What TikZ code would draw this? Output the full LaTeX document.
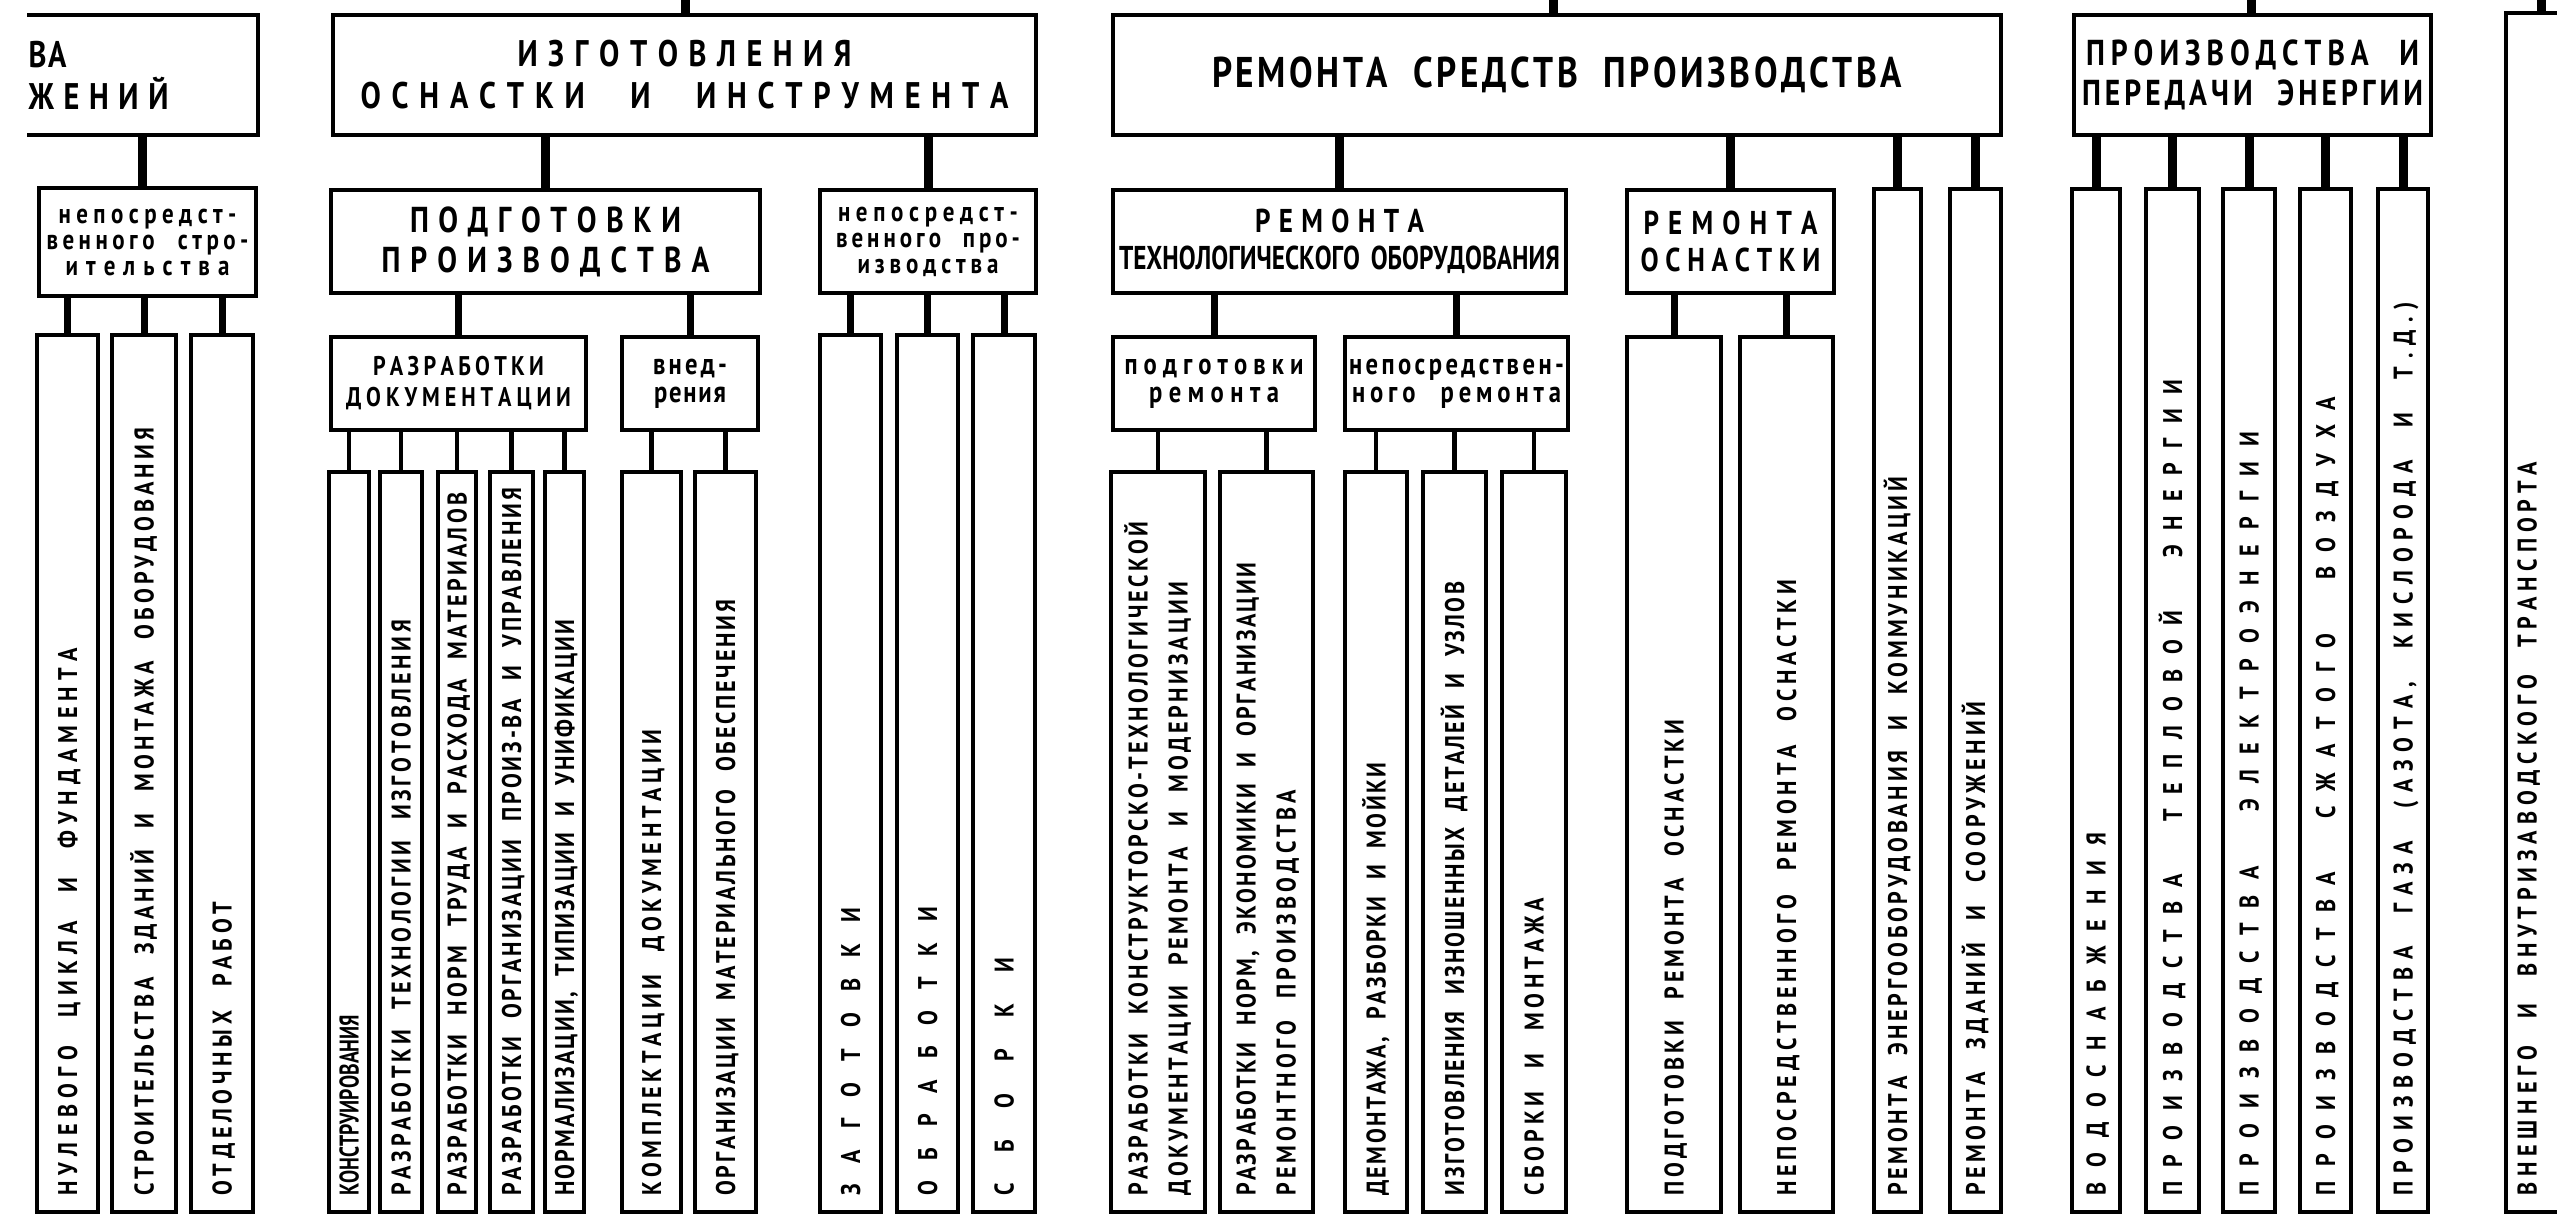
\documentclass[tikz,border=0pt]{standalone}
\usepackage{fontspec}
\setmainfont{PT Sans}[FakeStretch=0.82]
\usepackage{graphicx}
\newlength\fitlen
\def\spr#1#2\relax{#1\sprb#2\relax}
\def\sprb#1{\ifx#1\relax\else\ifx#1|\hskip0.35em plus 2fil\relax\else\hfil#1\fi\expandafter\sprb\fi}
\newcommand\fitto[2]{%
  \settowidth\fitlen{\spr#2\relax}%
  \ifdim\fitlen<#1\relax
    \makebox[#1][s]{\spr#2\relax}%
  \else
    \pgfmathsetmacro\fitsc{#1/\fitlen}%
    \scalebox{\fitsc}[1]{\spr#2\relax}%
  \fi}
\newcommand\fA{\fontsize{37}{42}\selectfont\bfseries\lineskiplimit=-100pt\relax}
\newcommand\fR{\fontsize{43}{43}\selectfont\bfseries\lineskiplimit=-100pt\relax}
\newcommand\fE{\fontsize{36}{40}\selectfont\bfseries\lineskiplimit=-100pt\relax}
\newcommand\fP{\fontsize{36}{40}\selectfont\bfseries\lineskiplimit=-100pt\relax}
\newcommand\fT{\fontsize{33}{37}\selectfont\bfseries\lineskiplimit=-100pt\relax}
\newcommand\fN{\fontsize{28}{26}\selectfont\bfseries\lineskiplimit=-100pt\relax}
\newcommand\fD{\fontsize{27}{31}\selectfont\bfseries\lineskiplimit=-100pt\relax}
\newcommand\fS{\fontsize{30}{28}\selectfont\bfseries\lineskiplimit=-100pt\relax}
\newcommand\bx[7][]{\node[box, minimum width={(#5-#3)*1pt}, minimum height={(#6-#4)*1pt}, #1] (#2) at (#3,#4) {#7};}
\newcommand\col[4]{\node[colbox, minimum width={(#3-#2)*1pt}, minimum height={(1212-#4)*1pt}] (#1) at (#2,#4) {};}
\newcommand\ctext[4]{\pgfmathsetlengthmacro\tlen{(1196-#3)*1pt}%
  \node[coltxt] (#1) at ({#2+9.5},1196) {\fitto{\tlen}{#4}};}
\begin{document}
\begin{tikzpicture}[x=1pt,y=-1pt,
  box/.style={draw, line width=3.5pt, inner sep=0pt, outer sep=0pt, anchor=north west, align=center},
  colbox/.style={draw, line width=3.5pt, inner sep=0pt, outer sep=0pt, anchor=north west},
  coltxt/.style={font=\fontsize{27}{27}\selectfont\bfseries, inner sep=0pt, rotate=90, anchor=base west},
  conA/.style={line width=9pt},
  conB/.style={line width=7pt},
  conC/.style={line width=4.5pt}]
\useasboundingbox (0,0) rectangle (2557,1216);
\fill[white] (0,0) rectangle (2557,1216);

% ---- top level
\node[box, draw=none, minimum width=231pt, minimum height=120pt, text width=228pt, align=left, font=\fA] (L0) at (27,15) {\fitto{38pt}{ВА}\\\fitto{140pt}{ЖЕНИЙ}};
\draw[line width=3.5pt] (L0.north west) -- (L0.north east) -- (L0.south east) -- (L0.south west);
\bx[font=\fA]{IZG}{333}{15}{1036}{135}{\fitto{334pt}{ИЗГОТОВЛЕНИЯ}\\\fitto{648pt}{ОСНАСТКИ|И|ИНСТРУМЕНТА}}
\bx[font=\fR]{REM}{1113}{15}{2001}{135}{\fitto{690pt}{РЕМОНТА|СРЕДСТВ|ПРОИЗВОДСТВА}}
\bx[font=\fE]{EN}{2074}{15}{2431}{135}{\fitto{333pt}{ПРОИЗВОДСТВА|И}\\\fitto{341pt}{ПЕРЕДАЧИ|ЭНЕРГИИ}}
\node[colbox, minimum width=150pt, minimum height=1199pt] (T) at (2506,13) {};

% ---- level 2
\bx[font=\fN]{NS}{39}{188}{256}{296}{\fitto{178pt}{непосредст-}\\\fitto{202pt}{венного|стро-}\\\fitto{164pt}{ительства}}
\bx[font=\fP]{PODG}{331}{190}{760}{293}{\fitto{271pt}{ПОДГОТОВКИ}\\\fitto{328pt}{ПРОИЗВОДСТВА}}
\bx[font=\fN]{NP}{820}{190}{1036}{293}{\fitto{180pt}{непосредст-}\\\fitto{184pt}{венного|про-}\\\fitto{141pt}{изводства}}
\bx[font=\fT]{RT}{1113}{190}{1566}{293}{\fitto{169pt}{РЕМОНТА}\\\fitto{441pt}{ТЕХНОЛОГИЧЕСКОГО|ОБОРУДОВАНИЯ}}
\bx[font=\fT]{RO}{1627}{190}{1834}{293}{\fitto{174pt}{РЕМОНТА}\\\fitto{180pt}{ОСНАСТКИ}}

% ---- level 3
\bx[font=\fD]{RD}{331}{337}{586}{430}{\fitto{171pt}{РАЗРАБОТКИ}\\\fitto{225pt}{ДОКУМЕНТАЦИИ}}
\bx[font=\fS]{VN}{622}{337}{758}{430}{\fitto{74pt}{внед-}\\\fitto{72pt}{рения}}
\bx[font=\fS]{PR}{1113}{337}{1315}{430}{\fitto{179pt}{подготовки}\\\fitto{130pt}{ремонта}}
\bx[font=\fS]{NR}{1345}{337}{1568}{430}{\fitto{215pt}{непосредствен-}\\\fitto{209pt}{ного|ремонта}}

% ---- columns
\col{c1}{37}{98}{335}
\col{c2}{112}{176}{335}
\col{c3}{191}{253}{335}
\col{c4}{329}{369}{472}
\col{c5}{380}{422}{472}
\col{c6}{438}{476}{472}
\col{c7}{490}{533}{472}
\col{c8}{545}{584}{472}
\col{c9}{622}{681}{472}
\col{c10}{695}{756}{472}
\col{c11}{820}{881}{335}
\col{c12}{897}{958}{335}
\col{c13}{973}{1035}{335}
\col{c14}{1111}{1205}{472}
\col{c15}{1220}{1313}{472}
\col{c16}{1345}{1407}{472}
\col{c17}{1423}{1486}{472}
\col{c18}{1502}{1566}{472}
\col{c19}{1627}{1721}{337}
\col{c20}{1740}{1833}{337}
\col{c21}{1874}{1921}{189}
\col{c22}{1950}{2001}{189}
\col{c23}{2072}{2120}{189}
\col{c24}{2146}{2199}{189}
\col{c25}{2223}{2275}{189}
\col{c26}{2300}{2351}{189}
\col{c27}{2378}{2428}{189}

% ---- column texts
\ctext{t1}{67.5}{648}{НУЛЕВОГО|ЦИКЛА|И|ФУНДАМЕНТА}
\ctext{t2}{144}{428}{СТРОИТЕЛЬСТВА|ЗДАНИЙ|И|МОНТАЖА|ОБОРУДОВАНИЯ}
\ctext{t3}{222}{902}{ОТДЕЛОЧНЫХ|РАБОТ}
\ctext{t4}{349}{1015}{КОНСТРУИРОВАНИЯ}
\ctext{t5}{401}{620}{РАЗРАБОТКИ|ТЕХНОЛОГИИ|ИЗГОТОВЛЕНИЯ}
\ctext{t6}{457}{493}{РАЗРАБОТКИ|НОРМ|ТРУДА|И|РАСХОДА|МАТЕРИАЛОВ}
\ctext{t7}{511.5}{488}{РАЗРАБОТКИ|ОРГАНИЗАЦИИ|ПРОИЗ-ВА|И|УПРАВЛЕНИЯ}
\ctext{t8}{564.5}{620}{НОРМАЛИЗАЦИИ,|ТИПИЗАЦИИ|И|УНИФИКАЦИИ}
\ctext{t9}{651.5}{730}{КОМПЛЕКТАЦИИ|ДОКУМЕНТАЦИИ}
\ctext{t10}{725.5}{600}{ОРГАНИЗАЦИИ|МАТЕРИАЛЬНОГО|ОБЕСПЕЧЕНИЯ}
\ctext{t11}{850.5}{908}{ЗАГОТОВКИ}
\ctext{t12}{927.5}{907}{ОБРАБОТКИ}
\ctext{t13}{1004}{958}{СБОРКИ}
\ctext{t14a}{1138}{522}{РАЗРАБОТКИ|КОНСТРУКТОРСКО-ТЕХНОЛОГИЧЕСКОЙ}
\ctext{t14b}{1178}{582}{ДОКУМЕНТАЦИИ|РЕМОНТА|И|МОДЕРНИЗАЦИИ}
\ctext{t15a}{1246}{563}{РАЗРАБОТКИ|НОРМ,|ЭКОНОМИКИ|И|ОРГАНИЗАЦИИ}
\ctext{t15b}{1286}{790}{РЕМОНТНОГО|ПРОИЗВОДСТВА}
\ctext{t16}{1376}{763}{ДЕМОНТАЖА,|РАЗБОРКИ|И|МОЙКИ}
\ctext{t17}{1454.5}{582}{ИЗГОТОВЛЕНИЯ|ИЗНОШЕННЫХ|ДЕТАЛЕЙ|И|УЗЛОВ}
\ctext{t18}{1534}{898}{СБОРКИ|И|МОНТАЖА}
\ctext{t19}{1674}{720}{ПОДГОТОВКИ|РЕМОНТА|ОСНАСТКИ}
\ctext{t20}{1786.5}{580}{НЕПОСРЕДСТВЕННОГО|РЕМОНТА|ОСНАСТКИ}
\ctext{t21}{1897.5}{477}{РЕМОНТА|ЭНЕРГООБОРУДОВАНИЯ|И|КОММУНИКАЦИЙ}
\ctext{t22}{1975.5}{702}{РЕМОНТА|ЗДАНИЙ|И|СООРУЖЕНИЙ}
\ctext{t23}{2096}{833}{ВОДОСНАБЖЕНИЯ}
\ctext{t24}{2172.5}{380}{ПРОИЗВОДСТВА|ТЕПЛОВОЙ|ЭНЕРГИИ}
\ctext{t25}{2249}{432}{ПРОИЗВОДСТВА|ЭЛЕКТРОЭНЕРГИИ}
\ctext{t26}{2325.5}{397}{ПРОИЗВОДСТВА|СЖАТОГО|ВОЗДУХА}
\ctext{t27}{2403}{302}{ПРОИЗВОДСТВА|ГАЗА|(АЗОТА,|КИСЛОРОДА|И|Т.Д.)}
\ctext{t28}{2527}{462}{ВНЕШНЕГО|И|ВНУТРИЗАВОДСКОГО|ТРАНСПОРТА}

% ---- connectors
\coordinate (s1) at (685,-5);
\coordinate (s2) at (1553,-5);
\coordinate (s3) at (2251,-5);
\coordinate (s4) at (2541,-5);
\draw[conA] (s1) -- (s1 |- IZG.north);
\draw[conA] (s2) -- (s2 |- REM.north);
\draw[conA] (s3) -- (s3 |- EN.north);
\draw[conA] (s4) -- (s4 |- T.north);

\draw[conA] (L0.south) -- (L0.south |- NS.north);
\draw[conA] (IZG.south -| PODG.north) -- (PODG.north);
\draw[conA] (IZG.south -| NP.north) -- (NP.north);
\draw[conA] (REM.south -| RT.north) -- (RT.north);
\draw[conA] (REM.south -| RO.north) -- (RO.north);
\draw[conA] (REM.south -| c21.north) -- (c21.north);
\draw[conA] (REM.south -| c22.north) -- (c22.north);
\foreach \nm in {c23,c24,c25,c26,c27} \draw[conA] (EN.south -| \nm.north) -- (\nm.north);

\foreach \nm in {c1,c2,c3} \draw[conB] (NS.south -| \nm.north) -- (\nm.north);
\draw[conB] (PODG.south -| RD.north) -- (RD.north);
\draw[conB] (PODG.south -| VN.north) -- (VN.north);
\foreach \nm in {c11,c12,c13} \draw[conB] (NP.south -| \nm.north) -- (\nm.north);
\draw[conB] (RT.south -| PR.north) -- (PR.north);
\draw[conB] (RT.south -| NR.north) -- (NR.north);
\foreach \nm in {c19,c20} \draw[conB] (RO.south -| \nm.north) -- (\nm.north);

\foreach \nm in {c4,c5,c6,c7,c8} \draw[conC] (RD.south -| \nm.north) -- (\nm.north);
\foreach \nm in {c9,c10} \draw[conC] (VN.south -| \nm.north) -- (\nm.north);
\foreach \nm in {c14,c15} \draw[conC] (PR.south -| \nm.north) -- (\nm.north);
\foreach \nm in {c16,c17,c18} \draw[conC] (NR.south -| \nm.north) -- (\nm.north);
\end{tikzpicture}
\end{document}
